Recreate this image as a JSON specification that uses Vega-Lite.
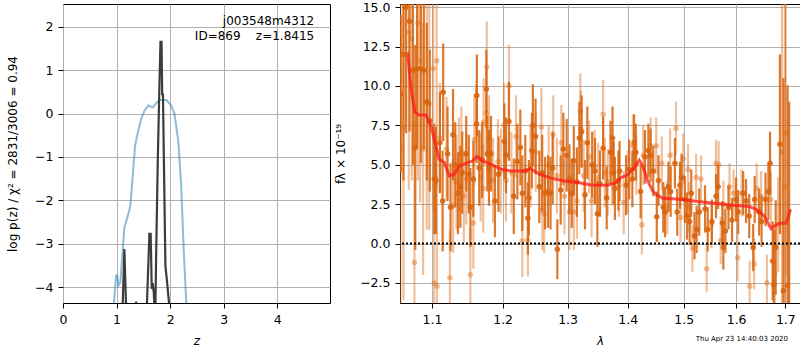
{
  "$schema": "https://vega.github.io/schema/vega-lite/v6.json",
  "padding": {"left": 5, "top": 0, "right": 0, "bottom": 0},
  "config": {
    "font": "DejaVu Sans",
    "view": {"stroke": "black", "strokeWidth": 1},
    "axis": {
      "labelFont": "DejaVu Sans", "labelFontSize": 12.5, "labelColor": "black",
      "titleFont": "DejaVu Sans", "titleFontSize": 12, "titleFontWeight": "normal", "titleColor": "black",
      "tickColor": "black", "tickSize": 5, "tickWidth": 1, "labelPadding": 5,
      "domain": false, "gridColor": "#b0b0b0", "gridWidth": 1, "gridOpacity": 1,
      "labelOverlap": false, "labelFlush": false
    }
  },
  "datasets": {
    "chi": [
      {"z": 0.90, "v": -5.2}, {"z": 0.99, "v": -3.73}, {"z": 1.01, "v": -3.72}, {"z": 1.034, "v": -3.96},
      {"z": 1.07, "v": -3.89}, {"z": 1.146, "v": -2.62}, {"z": 1.215, "v": -2.33}, {"z": 1.258, "v": -2.12},
      {"z": 1.346, "v": -0.74}, {"z": 1.396, "v": -0.44}, {"z": 1.458, "v": -0.13}, {"z": 1.52, "v": 0.06},
      {"z": 1.595, "v": 0.19}, {"z": 1.632, "v": 0.16}, {"z": 1.682, "v": 0.14}, {"z": 1.745, "v": 0.25},
      {"z": 1.807, "v": 0.31}, {"z": 1.931, "v": 0.31}, {"z": 2.019, "v": 0.19}, {"z": 2.081, "v": 0.0},
      {"z": 2.156, "v": -0.67}, {"z": 2.206, "v": -1.66}, {"z": 2.256, "v": -3.2}, {"z": 2.30, "v": -4.34},
      {"z": 2.34, "v": -5.3}
    ],
    "pz": [
      {"z": 1.10, "v": -5.0}, {"z": 1.146, "v": -3.12}, {"z": 1.19, "v": -5.0},
      {"z": 1.35, "v": -4.6}, {"z": 1.364, "v": -4.33}, {"z": 1.38, "v": -4.6},
      {"z": 1.55, "v": -5.0}, {"z": 1.613, "v": -2.77}, {"z": 1.637, "v": -2.77}, {"z": 1.657, "v": -4.04},
      {"z": 1.675, "v": -3.9}, {"z": 1.695, "v": -4.12}, {"z": 1.712, "v": -4.6}, {"z": 1.725, "v": -4.5},
      {"z": 1.738, "v": -3.35}, {"z": 1.77, "v": -1.05}, {"z": 1.80, "v": 0.63}, {"z": 1.82, "v": 1.65},
      {"z": 1.84, "v": 1.65}, {"z": 1.852, "v": 0.42}, {"z": 1.866, "v": 0.46}, {"z": 1.894, "v": -1.97},
      {"z": 1.912, "v": -3.5}, {"z": 1.944, "v": -3.89}, {"z": 1.99, "v": -4.5}, {"z": 2.02, "v": -5.5}
    ],
    "lbl": [
      {"z": 4.69, "v": 2.12, "t": "j003548m4312"},
      {"z": 4.69, "v": 1.79, "t": "ID=869\u00a0\u00a0\u00a0\u00a0z=1.8415"}
    ],
    "zero": [{"f": 0}],
    "dk": [
      {"w": 1.0585, "f": 9.5, "e": 5}, {"w": 1.0620, "f": 12.0, "e": 8}, {"w": 1.0654, "f": 15.0, "e": 8},
      {"w": 1.0700, "f": 14.1, "e": 7}, {"w": 1.0745, "f": 11.0, "e": 6}, {"w": 1.0776, "f": 6.1, "e": 6.5},
      {"w": 1.0800, "f": 11.1, "e": 5}, {"w": 1.0850, "f": 11.1, "e": 6}, {"w": 1.0890, "f": 11.0, "e": 5},
      {"w": 1.0930, "f": 9.0, "e": 5}, {"w": 1.0970, "f": 7.8, "e": 4.5},
      {"w": 1.1031, "f": 4.1, "e": 3.5}, {"w": 1.1054, "f": 4.0, "e": 3.4}, {"w": 1.1108, "f": 6.4, "e": 3.2},
      {"w": 1.1145, "f": 2.7, "e": 3.2}, {"w": 1.1153, "f": 9.6, "e": 3.1}, {"w": 1.1213, "f": 5.7, "e": 3.0},
      {"w": 1.1254, "f": 2.3, "e": 2.8}, {"w": 1.1289, "f": 6.9, "e": 2.9}, {"w": 1.1320, "f": 5.0, "e": 2.7},
      {"w": 1.1358, "f": 3.2, "e": 2.6}, {"w": 1.1391, "f": 3.6, "e": 2.6}, {"w": 1.1418, "f": 4.5, "e": 2.6},
      {"w": 1.1474, "f": 5.7, "e": 2.4}, {"w": 1.1510, "f": 4.4, "e": 2.5}, {"w": 1.1533, "f": 2.3, "e": 2.5},
      {"w": 1.1575, "f": 4.1, "e": 2.4}, {"w": 1.1621, "f": 7.6, "e": 2.5}, {"w": 1.1625, "f": 9.4, "e": 2.6},
      {"w": 1.1659, "f": 4.8, "e": 2.4}, {"w": 1.1700, "f": 5.3, "e": 2.4}, {"w": 1.1762, "f": 9.8, "e": 2.5},
      {"w": 1.1776, "f": 5.7, "e": 2.4}, {"w": 1.1800, "f": 4.8, "e": 2.4}, {"w": 1.1829, "f": 5.7, "e": 2.4},
      {"w": 1.1887, "f": 2.7, "e": 2.3}, {"w": 1.1940, "f": 4.4, "e": 2.4},
      {"w": 1.2026, "f": 6.5, "e": 2.4}, {"w": 1.2050, "f": 5.6, "e": 2.4}, {"w": 1.2094, "f": 7.75, "e": 2.5},
      {"w": 1.2166, "f": 3.0, "e": 2.4}, {"w": 1.2220, "f": 5.2, "e": 2.4}, {"w": 1.2265, "f": 6.1, "e": 2.4},
      {"w": 1.2295, "f": 3.2, "e": 2.4}, {"w": 1.2340, "f": 4.6, "e": 2.3}, {"w": 1.2380, "f": 1.6, "e": 2.3},
      {"w": 1.2395, "f": 2.9, "e": 2.4}, {"w": 1.2440, "f": 5.9, "e": 2.4}, {"w": 1.2456, "f": 7.5, "e": 2.6},
      {"w": 1.2497, "f": 6.8, "e": 2.4}, {"w": 1.2555, "f": 3.6, "e": 2.3}, {"w": 1.2600, "f": 4.5, "e": 2.4},
      {"w": 1.2644, "f": 3.2, "e": 2.3}, {"w": 1.2690, "f": 3.3, "e": 2.3}, {"w": 1.2730, "f": 3.2, "e": 2.3},
      {"w": 1.2763, "f": 4.8, "e": 2.3}, {"w": 1.2837, "f": -0.36, "e": 1.9}, {"w": 1.2890, "f": 3.4, "e": 2.2},
      {"w": 1.2932, "f": 6.0, "e": 2.3}, {"w": 1.2986, "f": 5.6, "e": 2.3}, {"w": 1.3030, "f": 4.1, "e": 2.2},
      {"w": 1.3067, "f": 3.2, "e": 2.2}, {"w": 1.3100, "f": 5.25, "e": 2.2}, {"w": 1.3150, "f": 3.9, "e": 2.2},
      {"w": 1.3189, "f": 6.7, "e": 2.3}, {"w": 1.3228, "f": 7.1, "e": 2.3}, {"w": 1.3282, "f": 3.1, "e": 2.2},
      {"w": 1.3320, "f": 6.4, "e": 2.3}, {"w": 1.3400, "f": 5.0, "e": 2.1}, {"w": 1.3447, "f": 4.6, "e": 2.1},
      {"w": 1.3486, "f": 1.9, "e": 2.1}, {"w": 1.3530, "f": 3.8, "e": 2.1},
      {"w": 1.3582, "f": 6.05, "e": 2.0}, {"w": 1.3642, "f": 2.9, "e": 2.0}, {"w": 1.3706, "f": 5.8, "e": 2.0},
      {"w": 1.3740, "f": 6.7, "e": 2.0}, {"w": 1.3760, "f": 4.5, "e": 2.0}, {"w": 1.3780, "f": 3.5, "e": 2.0},
      {"w": 1.3840, "f": 4.0, "e": 1.9}, {"w": 1.3860, "f": 4.6, "e": 1.9}, {"w": 1.3971, "f": 3.7, "e": 1.9},
      {"w": 1.4025, "f": 4.7, "e": 1.9}, {"w": 1.4080, "f": 4.1, "e": 1.8}, {"w": 1.4110, "f": 6.4, "e": 1.8},
      {"w": 1.4140, "f": 5.8, "e": 1.8}, {"w": 1.4224, "f": 3.3, "e": 1.7}, {"w": 1.4300, "f": 5.5, "e": 1.7},
      {"w": 1.4360, "f": 5.9, "e": 1.7}, {"w": 1.4400, "f": 5.6, "e": 1.7}, {"w": 1.4447, "f": 4.6, "e": 1.6},
      {"w": 1.4510, "f": 1.7, "e": 1.6}, {"w": 1.4540, "f": 4.0, "e": 1.6}, {"w": 1.4626, "f": 2.3, "e": 1.6},
      {"w": 1.4660, "f": 2.0, "e": 1.6}, {"w": 1.4720, "f": 3.6, "e": 1.6}, {"w": 1.4760, "f": 3.3, "e": 1.6},
      {"w": 1.4838, "f": 5.1, "e": 1.6}, {"w": 1.4880, "f": 2.0, "e": 1.5}, {"w": 1.4930, "f": 3.7, "e": 1.5},
      {"w": 1.4960, "f": 4.2, "e": 1.5}, {"w": 1.5020, "f": 2.8, "e": 1.5}, {"w": 1.5060, "f": 1.75, "e": 1.5},
      {"w": 1.5110, "f": 1.4, "e": 1.5}, {"w": 1.5140, "f": 3.2, "e": 1.5}, {"w": 1.5200, "f": 0.5, "e": 1.5},
      {"w": 1.5240, "f": 0.9, "e": 1.5}, {"w": 1.5290, "f": 2.0, "e": 1.5}, {"w": 1.5399, "f": 2.2, "e": 1.5},
      {"w": 1.5450, "f": 0.9, "e": 1.4}, {"w": 1.5530, "f": 1.4, "e": 1.4}, {"w": 1.5609, "f": 3.0, "e": 1.4},
      {"w": 1.5650, "f": 3.6, "e": 1.4}, {"w": 1.5730, "f": 1.3, "e": 1.4}, {"w": 1.5750, "f": -0.25, "e": 1.4},
      {"w": 1.5790, "f": 0.8, "e": 1.4}, {"w": 1.5850, "f": 2.3, "e": 1.4}, {"w": 1.5920, "f": 1.5, "e": 1.4},
      {"w": 1.5999, "f": 2.8, "e": 1.4}, {"w": 1.6040, "f": 2.0, "e": 1.4}, {"w": 1.6140, "f": 3.2, "e": 1.4},
      {"w": 1.6197, "f": 2.7, "e": 1.4}, {"w": 1.6260, "f": 1.75, "e": 1.4}, {"w": 1.6340, "f": -0.25, "e": 1.5},
      {"w": 1.6370, "f": 2.8, "e": 1.5}, {"w": 1.6460, "f": 2.0, "e": 1.5}, {"w": 1.6510, "f": 1.4, "e": 1.6},
      {"w": 1.6590, "f": 2.8, "e": 1.7}, {"w": 1.6650, "f": 3.3, "e": 1.8}, {"w": 1.6683, "f": 5.1, "e": 2.0},
      {"w": 1.6737, "f": -1.1, "e": 2.5}, {"w": 1.6760, "f": -2.6, "e": 3.5}, {"w": 1.6800, "f": -0.25, "e": 3.0},
      {"w": 1.6887, "f": 6.3, "e": 5.7}, {"w": 1.6960, "f": -3.0, "e": 13.5}, {"w": 1.7047, "f": -2.65, "e": 12.7},
      {"w": 1.7080, "f": -5.0, "e": 14}
    ],
    "lt": [
      {"w": 1.0578, "f": 6.0, "e": 14}, {"w": 1.0620, "f": 7.4, "e": 11}, {"w": 1.0690, "f": 13.4, "e": 10},
      {"w": 1.0730, "f": 13.0, "e": 9}, {"w": 1.0765, "f": -1.2, "e": 9}, {"w": 1.0810, "f": 14.0, "e": 10},
      {"w": 1.0840, "f": 11.6, "e": 9}, {"w": 1.0880, "f": 6.0, "e": 8}, {"w": 1.0930, "f": 8.9, "e": 8},
      {"w": 1.0964, "f": 8.85, "e": 8}, {"w": 1.1018, "f": 11.1, "e": 9}, {"w": 1.1030, "f": -2.5, "e": 8},
      {"w": 1.1064, "f": 11.6, "e": 8}, {"w": 1.1068, "f": -2.7, "e": 7}, {"w": 1.1108, "f": 6.7, "e": 3.5},
      {"w": 1.1199, "f": 6.0, "e": 3.3}, {"w": 1.1245, "f": -2.16, "e": 3.0}, {"w": 1.1289, "f": 2.4, "e": 3.0},
      {"w": 1.1336, "f": 3.9, "e": 3.0}, {"w": 1.1370, "f": 5.0, "e": 3.0}, {"w": 1.1405, "f": 5.7, "e": 3.0},
      {"w": 1.1440, "f": 3.0, "e": 2.9}, {"w": 1.1474, "f": 4.1, "e": 2.9}, {"w": 1.1533, "f": -1.97, "e": 2.9},
      {"w": 1.1575, "f": 1.3, "e": 2.9}, {"w": 1.1589, "f": 6.6, "e": 2.9}, {"w": 1.1680, "f": 4.2, "e": 2.8},
      {"w": 1.1717, "f": 3.5, "e": 2.8}, {"w": 1.1721, "f": 7.7, "e": 2.8}, {"w": 1.1762, "f": 8.3, "e": 2.8},
      {"w": 1.1768, "f": 11.2, "e": 2.9}, {"w": 1.1800, "f": 6.6, "e": 2.8}, {"w": 1.1860, "f": 4.0, "e": 2.7},
      {"w": 1.1930, "f": 5.2, "e": 2.7}, {"w": 1.1976, "f": 4.6, "e": 2.7}, {"w": 1.2020, "f": 7.5, "e": 2.7},
      {"w": 1.2050, "f": 4.0, "e": 2.6}, {"w": 1.2094, "f": 10.0, "e": 2.6}, {"w": 1.2130, "f": 4.5, "e": 2.6},
      {"w": 1.2200, "f": 6.8, "e": 2.6}, {"w": 1.2295, "f": 0.17, "e": 2.3}, {"w": 1.2380, "f": 0.23, "e": 2.3},
      {"w": 1.2420, "f": 4.9, "e": 2.6}, {"w": 1.2500, "f": 5.8, "e": 2.5}, {"w": 1.2587, "f": 7.4, "e": 2.5},
      {"w": 1.2600, "f": 2.1, "e": 2.5}, {"w": 1.2630, "f": 1.9, "e": 2.5}, {"w": 1.2700, "f": 5.0, "e": 2.5},
      {"w": 1.2772, "f": 6.9, "e": 2.5}, {"w": 1.2830, "f": 4.3, "e": 2.4}, {"w": 1.2900, "f": 6.4, "e": 2.4},
      {"w": 1.2950, "f": 3.0, "e": 2.4}, {"w": 1.3030, "f": 2.0, "e": 2.4}, {"w": 1.3100, "f": 2.0, "e": 2.4},
      {"w": 1.3150, "f": 2.7, "e": 2.4}, {"w": 1.3205, "f": 8.4, "e": 2.4}, {"w": 1.3215, "f": 7.3, "e": 2.4},
      {"w": 1.3260, "f": 4.3, "e": 2.3}, {"w": 1.3350, "f": 5.5, "e": 2.3}, {"w": 1.3390, "f": 2.7, "e": 2.3},
      {"w": 1.3440, "f": 4.9, "e": 2.3}, {"w": 1.3500, "f": 4.2, "e": 2.2}, {"w": 1.3582, "f": 8.2, "e": 2.2},
      {"w": 1.3610, "f": 4.5, "e": 2.2}, {"w": 1.3660, "f": 3.9, "e": 2.1}, {"w": 1.3730, "f": 4.5, "e": 2.1},
      {"w": 1.3850, "f": 3.7, "e": 2.0}, {"w": 1.3930, "f": 2.6, "e": 2.0}, {"w": 1.4000, "f": 3.9, "e": 2.0},
      {"w": 1.4090, "f": 6.2, "e": 2.0}, {"w": 1.4150, "f": 5.0, "e": 1.9}, {"w": 1.4245, "f": 1.2, "e": 1.9},
      {"w": 1.4270, "f": 5.6, "e": 1.9}, {"w": 1.4400, "f": 6.2, "e": 1.8}, {"w": 1.4500, "f": 6.2, "e": 1.8},
      {"w": 1.4600, "f": 5.1, "e": 1.7}, {"w": 1.4700, "f": 2.3, "e": 1.7}, {"w": 1.4750, "f": 5.6, "e": 1.7},
      {"w": 1.4858, "f": 7.3, "e": 1.7}, {"w": 1.4940, "f": 1.65, "e": 1.6}, {"w": 1.4990, "f": 5.4, "e": 1.6},
      {"w": 1.5080, "f": 4.7, "e": 1.6}, {"w": 1.5100, "f": 2.3, "e": 1.6}, {"w": 1.5160, "f": -0.3, "e": 1.5},
      {"w": 1.5230, "f": 4.2, "e": 1.5}, {"w": 1.5323, "f": 4.1, "e": 1.5}, {"w": 1.5430, "f": -1.6, "e": 1.5},
      {"w": 1.5520, "f": 1.2, "e": 1.5}, {"w": 1.5609, "f": 5.1, "e": 1.5}, {"w": 1.5660, "f": 5.0, "e": 1.5},
      {"w": 1.5700, "f": 0.2, "e": 1.5}, {"w": 1.5750, "f": 2.5, "e": 1.5}, {"w": 1.5870, "f": 3.6, "e": 1.5},
      {"w": 1.5950, "f": 3.2, "e": 1.5}, {"w": 1.6030, "f": -0.9, "e": 1.5}, {"w": 1.6110, "f": 3.2, "e": 1.5},
      {"w": 1.6270, "f": -2.7, "e": 1.6}, {"w": 1.6360, "f": -1.3, "e": 1.6}, {"w": 1.6410, "f": 3.5, "e": 1.6},
      {"w": 1.6500, "f": 3.0, "e": 1.6}, {"w": 1.6620, "f": -2.5, "e": 1.8}, {"w": 1.6700, "f": 2.8, "e": 1.8},
      {"w": 1.6780, "f": -1.95, "e": 2.5}, {"w": 1.6850, "f": 1.2, "e": 3.0}, {"w": 1.6930, "f": 5.8, "e": 10},
      {"w": 1.6990, "f": 3.6, "e": 12}, {"w": 1.7010, "f": 7.0, "e": 9}
    ],
    "model": [
      {"w": 1.0676, "f": 12.13}, {"w": 1.0719, "f": 9.8}, {"w": 1.0772, "f": 8.32}, {"w": 1.0829, "f": 8.15},
      {"w": 1.0919, "f": 8.15}, {"w": 1.0986, "f": 7.47}, {"w": 1.1099, "f": 5.35}, {"w": 1.1168, "f": 5.14},
      {"w": 1.1237, "f": 4.29}, {"w": 1.1306, "f": 4.4}, {"w": 1.1376, "f": 4.93}, {"w": 1.1495, "f": 5.14},
      {"w": 1.1566, "f": 5.25}, {"w": 1.1627, "f": 5.52}, {"w": 1.1709, "f": 5.25}, {"w": 1.1829, "f": 5.03},
      {"w": 1.1976, "f": 4.72}, {"w": 1.2124, "f": 4.61}, {"w": 1.2325, "f": 4.61}, {"w": 1.2416, "f": 4.76},
      {"w": 1.2478, "f": 4.61}, {"w": 1.2555, "f": 4.4}, {"w": 1.2737, "f": 4.15}, {"w": 1.2948, "f": 3.97},
      {"w": 1.3163, "f": 3.87}, {"w": 1.3381, "f": 3.72}, {"w": 1.3659, "f": 3.70}, {"w": 1.3800, "f": 3.87},
      {"w": 1.3886, "f": 4.19}, {"w": 1.4000, "f": 4.36}, {"w": 1.4114, "f": 4.83}, {"w": 1.4201, "f": 5.29},
      {"w": 1.4261, "f": 4.93}, {"w": 1.4349, "f": 3.97}, {"w": 1.4438, "f": 3.34}, {"w": 1.4496, "f": 3.13},
      {"w": 1.4616, "f": 2.88}, {"w": 1.4950, "f": 2.81}, {"w": 1.5261, "f": 2.67}, {"w": 1.5576, "f": 2.56},
      {"w": 1.5900, "f": 2.45}, {"w": 1.6262, "f": 2.35}, {"w": 1.6397, "f": 2.18}, {"w": 1.6566, "f": 1.75},
      {"w": 1.6703, "f": 0.95}, {"w": 1.6771, "f": 1.12}, {"w": 1.6876, "f": 1.29}, {"w": 1.7018, "f": 1.29},
      {"w": 1.7109, "f": 2.18}
    ]
  },
  "spacing": 70,
  "bounds": "flush",
  "hconcat": [
    {
      "width": 267,
      "height": 299,
      "layer": [
        {
          "data": {"name": "chi"},
          "mark": {"type": "line", "clip": true, "color": "#1f77b4", "opacity": 0.5, "strokeWidth": 2},
          "encoding": {
            "x": {"field": "z", "type": "quantitative", "title": "z",
                  "scale": {"domain": [0, 4.985], "nice": false, "zero": false},
                  "axis": {"values": [0, 1, 2, 3, 4], "titleFontStyle": "italic",
                           "titleY": 41, "titleBaseline": "alphabetic"}},
            "y": {"field": "v", "type": "quantitative", "title": "log p(z) / χ² = 2831/3006 = 0.94",
                  "scale": {"domain": [-4.36, 2.52], "nice": false, "zero": false},
                  "axis": {"values": [-4, -3, -2, -1, 0, 1, 2],
                           "titleAngle": 270, "titleBaseline": "bottom", "titleAlign": "center", "titleX": -44}}
          }
        },
        {
          "data": {"name": "pz"},
          "mark": {"type": "line", "clip": true, "color": "#333333", "opacity": 0.95, "strokeWidth": 2.2},
          "encoding": {
            "x": {"field": "z", "type": "quantitative", "title": "z"},
            "y": {"field": "v", "type": "quantitative", "title": "log p(z) / χ² = 2831/3006 = 0.94"}
          }
        },
        {
          "data": {"name": "lbl"},
          "mark": {"type": "text", "align": "right", "baseline": "middle", "fontSize": 12, "color": "black", "font": "DejaVu Sans"},
          "encoding": {
            "x": {"field": "z", "type": "quantitative", "title": "z"},
            "y": {"field": "v", "type": "quantitative", "title": "log p(z) / χ² = 2831/3006 = 0.94"},
            "text": {"field": "t"}
          }
        }
      ]
    },
    {
      "width": 400,
      "height": 299,
      "title": {"text": "Thu Apr 23 14:40:03 2020", "orient": "bottom", "anchor": "end", "frame": "group",
                "fontSize": 7, "fontWeight": "normal", "font": "DejaVu Sans", "color": "black", "offset": -11, "dx": -12},
      "layer": [
        {
          "data": {"name": "lt"},
          "mark": {"type": "errorbar", "clip": true, "thickness": 2.2, "color": "#e07020", "opacity": 0.45},
          "encoding": {
            "x": {"field": "w", "type": "quantitative", "title": "λ",
                  "scale": {"type": "log", "domain": [1.0575, 1.731], "nice": false},
                  "axis": {"values": [1.1, 1.2, 1.3, 1.4, 1.5, 1.6, 1.7], "format": ".1f",
                           "titleFontStyle": "italic", "titleY": 41, "titleBaseline": "alphabetic"}},
            "y": {"field": "f", "type": "quantitative", "title": "fλ × 10⁻¹⁹",
                  "scale": {"domain": [-3.77, 15.2], "nice": false, "zero": false},
                  "axis": {"values": [-2.5, 0, 2.5, 5, 7.5, 10, 12.5, 15], "format": ".1f",
                           "titleAngle": 270, "titleBaseline": "bottom",
                           "titleAlign": "center", "titleX": -53}},
            "yError": {"field": "e"}
          }
        },
        {
          "data": {"name": "lt"},
          "mark": {"type": "circle", "clip": true, "size": 30, "color": "#e07020", "opacity": 0.45},
          "encoding": {
            "x": {"field": "w", "type": "quantitative", "title": "λ"},
            "y": {"field": "f", "type": "quantitative", "title": "fλ × 10⁻¹⁹"}
          }
        },
        {
          "data": {"name": "dk"},
          "mark": {"type": "errorbar", "clip": true, "thickness": 2.2, "color": "#d8650f", "opacity": 0.88},
          "encoding": {
            "x": {"field": "w", "type": "quantitative", "title": "λ"},
            "y": {"field": "f", "type": "quantitative", "title": "fλ × 10⁻¹⁹"},
            "yError": {"field": "e"}
          }
        },
        {
          "data": {"name": "dk"},
          "mark": {"type": "circle", "clip": true, "size": 30, "color": "#d8650f", "opacity": 0.9},
          "encoding": {
            "x": {"field": "w", "type": "quantitative", "title": "λ"},
            "y": {"field": "f", "type": "quantitative", "title": "fλ × 10⁻¹⁹"}
          }
        },
        {
          "data": {"name": "model"},
          "mark": {"type": "line", "clip": true, "color": "#ff1a1a", "opacity": 0.75, "strokeWidth": 3},
          "encoding": {
            "x": {"field": "w", "type": "quantitative", "title": "λ"},
            "y": {"field": "f", "type": "quantitative", "title": "fλ × 10⁻¹⁹"}
          }
        },
        {
          "data": {"name": "zero"},
          "mark": {"type": "rule", "color": "black", "strokeWidth": 2, "strokeDash": [2, 2]},
          "encoding": {"y": {"field": "f", "type": "quantitative", "title": "fλ × 10⁻¹⁹"}}
        }
      ]
    }
  ]
}
